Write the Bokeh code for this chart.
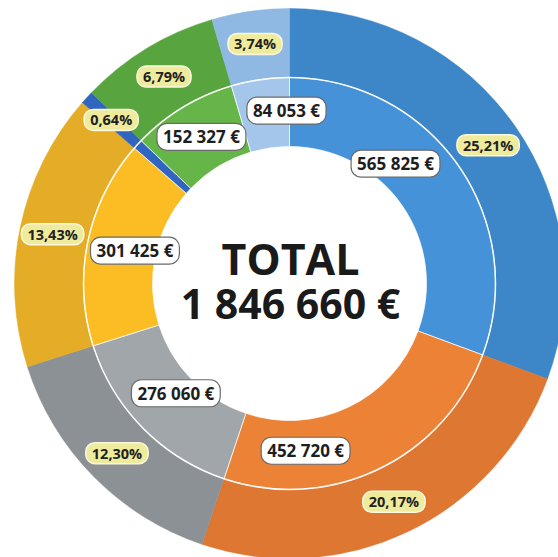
import math
from bokeh.plotting import figure
from bokeh.models import ColumnDataSource, Range1d
from bokeh.core.properties import value
from bokeh.embed import file_html
from bokeh.resources import INLINE

# ---- data ----
segments = ["Bleu", "Orange", "Gris", "Jaune", "Bleu foncé", "Vert", "Bleu clair"]
amounts = [565825, 452720, 276060, 301425, 14250, 152327, 84053]
amount_labels = ["565 825 €", "452 720 €", "276 060 €", "301 425 €", "", "152 327 €", "84 053 €"]
percent_labels = ["25,21%", "20,17%", "12,30%", "13,43%", "0,64%", "6,79%", "3,74%"]
total_label = "1 846 660 €"

# ---- styles / layout ----
inner_colors = ["#4592d8", "#ec8236", "#a1a6aa", "#fbbd23", "#3066c0", "#66b548", "#a4c6ea"]
outer_colors = ["#3d86c8", "#dd7732", "#8c9196", "#e5ad27", "#3066c0", "#58a53f", "#8fb9e3"]
# inner label placement (degrees clockwise from top, radius in px)
inner_label_ang = [41.5, 174.5, 226.0, 282.0, None, 329.0, 359.0]
inner_label_rad = [160, 168, 158, 158, None, 171, 173]
outer_label_rad = 242

W, H = 558, 557
CX, CY = 289, H - 283
R_HOLE, R_MID, R_OUT = 137, 206, 275

total = sum(amounts)
starts, ends, mids = [], [], []
acc = 0.0
for a in amounts:
    s = acc / total * 360.0
    acc += a
    e = acc / total * 360.0
    starts.append(s); ends.append(e); mids.append((s + e) / 2)

def to_bokeh(deg):
    # clockwise-from-top degrees -> bokeh radians (anticlockwise from +x)
    return math.radians(90.0 - deg)

src = ColumnDataSource(dict(
    start=[to_bokeh(e) for e in ends],
    end=[to_bokeh(s) for s in starts],
    inner=inner_colors, outer=outer_colors,
    x=[CX] * len(amounts), y=[CY] * len(amounts),
))

p = figure(width=W, height=H, output_backend="svg", toolbar_location=None,
           x_range=Range1d(0, W), y_range=Range1d(0, H),
           min_border=0, outline_line_color=None, background_fill_color="white",
           border_fill_color="white")
p.axis.visible = False
p.grid.visible = False

p.annular_wedge(x="x", y="y", inner_radius=R_MID, outer_radius=R_OUT,
                start_angle="start", end_angle="end", fill_color="outer",
                line_color="outer", line_width=0.5, source=src)
p.annular_wedge(x="x", y="y", inner_radius=R_HOLE, outer_radius=R_MID,
                start_angle="start", end_angle="end", fill_color="inner",
                line_color="white", line_alpha=0.7, line_width=1.0, source=src)
p.circle(x=[CX], y=[CY], radius=R_MID, fill_color=None, line_color="white",
         line_width=1.5, line_alpha=0.9)

# outer labels
ox, oy = [], []
for m in mids:
    ox.append(CX + outer_label_rad * math.sin(math.radians(m)))
    oy.append(CY + outer_label_rad * math.cos(math.radians(m)))
p.text(x=ox, y=oy, text=percent_labels, text_font=value("Open Sans"),
       text_font_style="bold", text_font_size="14.5px", text_color="#222222",
       text_align="center", text_baseline="middle",
       background_fill_color="#efeb9c", border_line_color="#fbf8e0",
       border_line_width=1.5, border_radius=9,
       padding=dict(left=6, right=6, top=1, bottom=1))

# inner labels
ix, iy, it = [], [], []
for ang, rad, lab in zip(inner_label_ang, inner_label_rad, amount_labels):
    if ang is None or not lab:
        continue
    ix.append(CX + rad * math.sin(math.radians(ang)))
    iy.append(CY + rad * math.cos(math.radians(ang)))
    it.append(lab)
p.text(x=ix, y=iy, text=it, text_font=value("Open Sans"),
       text_font_style="bold", text_font_size="17px", text_color="#1e1e1e",
       text_align="center", text_baseline="middle",
       background_fill_color="white", border_line_color="#6a6a6a",
       border_line_width=1.2, border_radius=10,
       padding=dict(left=6, right=6, top=2, bottom=2))

# total
p.text(x=[CX + 1], y=[H - 258], text=["TOTAL"], text_font=value("Open Sans"),
       text_font_style="bold", text_font_size="43px", text_color="#1a1a1a",
       text_align="center", text_baseline="middle")
p.text(x=[CX + 1], y=[H - 302], text=[total_label], text_font=value("Open Sans"),
       text_font_style="bold", text_font_size="41px", text_color="#1a1a1a",
       text_align="center", text_baseline="middle")

open("out.html", "w").write(file_html(p, INLINE))
